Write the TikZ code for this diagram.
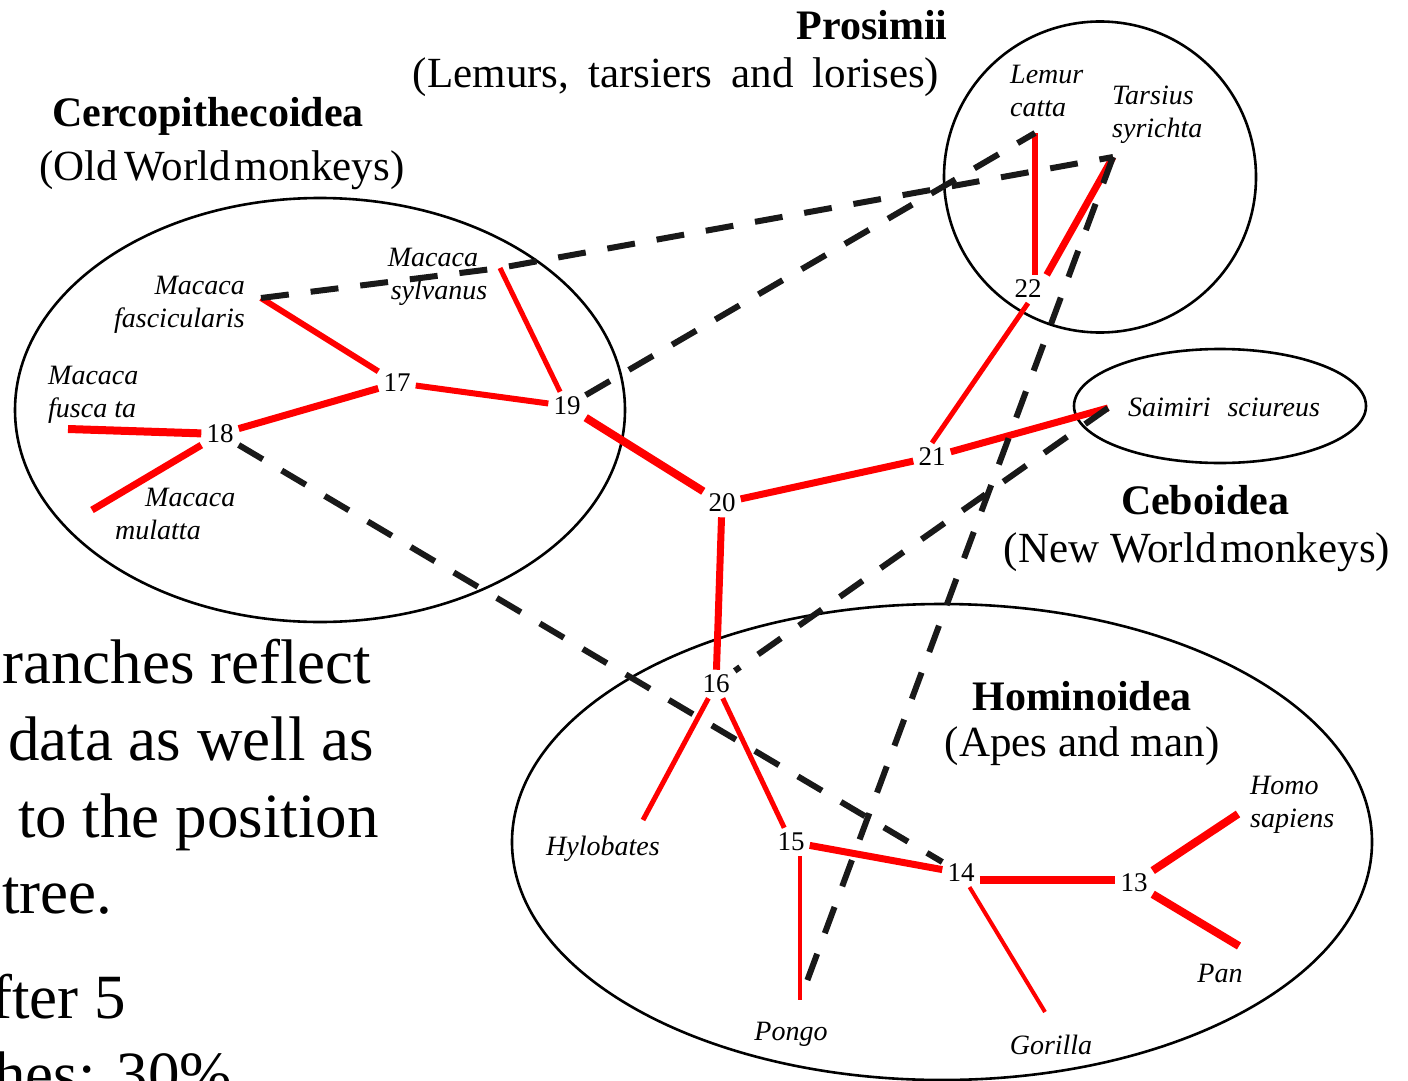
\documentclass[tikz,border=0pt]{standalone}
\usepackage{fontspec}
\setmainfont{Liberation Serif}
\usetikzlibrary{shapes.geometric}
\begin{document}
\begin{tikzpicture}[x=1pt,y=-1pt,
  num/.style={font=\fontsize{27}{27}\selectfont, inner sep=5pt},
  sp/.style={font=\fontsize{28}{33}\selectfont\itshape, inner sep=0pt},
  br/.style={draw=red, line cap=butt},
  alt/.style={draw=black!90, line width=6pt, dash pattern=on 28pt off 22pt},
  grp/.style={draw=black, line width=2.6pt, ellipse, inner sep=0pt},
  ttl/.style={font=\fontsize{42}{44}\selectfont\bfseries, inner sep=0pt},
  sub/.style={font=\fontsize{43}{45}\selectfont, inner sep=0pt},
  body/.style={font=\fontsize{63}{70}\selectfont, inner sep=0pt, anchor=base west}]
\useasboundingbox (0,0) rectangle (1408,1081);
\fill[white] (0,0) rectangle (1408,1081);

% group outlines
\node[grp, minimum width=610pt, minimum height=424pt] (cerco) at (320,410) {};
\node[grp, minimum width=312pt, minimum height=311pt] (prosi) at (1100,177) {};
\node[grp, minimum width=292pt, minimum height=114pt] (cebo) at (1220,406) {};
\node[grp, minimum width=860pt, minimum height=476pt] (homi) at (942,842) {};

% group titles
\node[ttl] (tProsi) at (872,25) {Prosimii};
\node[sub] (sProsi) at (676,77) {(Lemurs,\hspace{19pt}tarsiers\hspace{19pt}and\hspace{19pt}lorises)};
\node[ttl] (tCerco) at (208,116) {Cercopithecoidea};
\node[sub] (sCerco) at (222,170) {(Old\hspace{6pt}World\hspace{4pt}monkeys)};
\node[ttl] (tCebo) at (1205,500) {Ceboidea};
\node[sub] (sCebo) at (1197,552) {(New World\hspace{4pt}monkeys)};
\node[ttl] (tHomi) at (1082,696) {Hominoidea};
\node[sub] (sHomi) at (1082,746) {(Apes and man)};

% body text (partly hidden at the slide edge)
\node[body] (b1) at (2,683) {ranches reflect};
\node[body] (b2) at (8,760) {data as well as};
\node[body] (b3) at (18,837) {to the position};
\node[body] (b4) at (2,913) {tree.};
\node[body] (b5) at (-9,1018) {fter 5};
\node[body] (b6) at (-6,1095) {hes: 30\%};

% internal nodes
\node[num] (n13) at (1134,883) {13};
\node[num] (n14) at (961,873) {14};
\node[num] (n15) at (791,842) {15};
\node[num] (n16) at (716,684) {16};
\node[num] (n17) at (397,383) {17};
\node[num] (n18) at (220,434) {18};
\node[num] (n19) at (567,406) {19};
\node[num] (n20) at (722,503) {20};
\node[num] (n21) at (932,457) {21};
\node[num] (n22) at (1028,289) {22};

% leaf tips
\coordinate (lemurT) at (1035,133);
\coordinate (tarsT) at (1113,157);
\coordinate (saimT) at (1108,408);
\coordinate (sylvT) at (500,268);
\coordinate (fascT) at (261,298);
\coordinate (fuscT) at (68,429);
\coordinate (mulT) at (92,510);
\coordinate (hyloT) at (643,820);
\coordinate (pongT) at (800,1000);
\coordinate (goriT) at (1045,1012);
\coordinate (homoT) at (1238,814);
\coordinate (panT) at (1239,946);

% species labels
\node[sp, align=left, anchor=north west] (lLemur) at (1010,65) {Lemur\\catta};
\node[sp, align=left, anchor=north west] (lTars) at (1112,86) {Tarsius\\syrichta};
\node[sp, align=center] (lSylv) at (433,277) {Macaca\\\hspace{12pt}sylvanus};
\node[sp, align=right, anchor=north east] (lFasc) at (245,276) {Macaca\\fascicularis};
\node[sp, align=left, anchor=north west] (lFusc) at (48,366) {Macaca\\fusca ta};
\node[sp, align=left, anchor=north west] (lMul) at (115,488) {\hspace{30pt}Macaca\\mulatta};
\node[sp] (lSaim) at (1224,407) {Saimiri\hspace{10pt} sciureus};
\node[sp] (lHylo) at (603,849) {Hylobates};
\node[sp] (lPong) at (791,1034) {Pongo};
\node[sp] (lGori) at (1051,1045) {Gorilla};
\node[sp, align=left, anchor=north west] (lHomo) at (1250,776) {Homo\\sapiens};
\node[sp] (lPan) at (1220,973) {Pan};

% tree branches
\draw[br, line width=6pt] (lemurT) -- (lemurT |- n22.north);
\draw[br, line width=7pt] (tarsT) -- (n22.north east);
\draw[br, line width=5pt] (n22.south) -- (n21.north);
\draw[br, line width=7pt] (n21) -- (saimT);
\draw[br, line width=7pt] (n21) -- (n20);
\draw[br, line width=8pt] (n20) -- (n19);
\draw[br, line width=7pt] (n20) -- (n16);
\draw[br, line width=5pt] (n19) -- (sylvT);
\draw[br, line width=6pt] (n19) -- (n17);
\draw[br, line width=6pt] (n17) -- (fascT);
\draw[br, line width=7pt] (n17) -- (n18);
\draw[br, line width=8pt] (n18) -- (fuscT);
\draw[br, line width=7pt] (n18) -- (mulT);
\draw[br, line width=5pt] (n16) -- (hyloT);
\draw[br, line width=5pt] (n16) -- (n15);
\draw[br, line width=7pt] (n15) -- (n14);
\draw[br, line width=4pt] (pongT |- n15.south) -- (pongT);
\draw[br, line width=8pt] ([yshift=-7pt]n14.east) -- ([yshift=3pt]n13.west);
\draw[br, line width=4pt] (n14) -- (goriT);
\draw[br, line width=8pt] (n13) -- (homoT);
\draw[br, line width=8pt] (n13) -- (panT);

% alternative (dashed) connections
\draw[alt] (fascT) -- (sylvT) -- (tarsT);
\draw[alt] (n19) -- (lemurT);
\draw[alt] (n18) -- (n14);
\draw[alt] (saimT) -- (n16);
\draw[alt] (tarsT) -- (pongT);
\end{tikzpicture}
\end{document}
